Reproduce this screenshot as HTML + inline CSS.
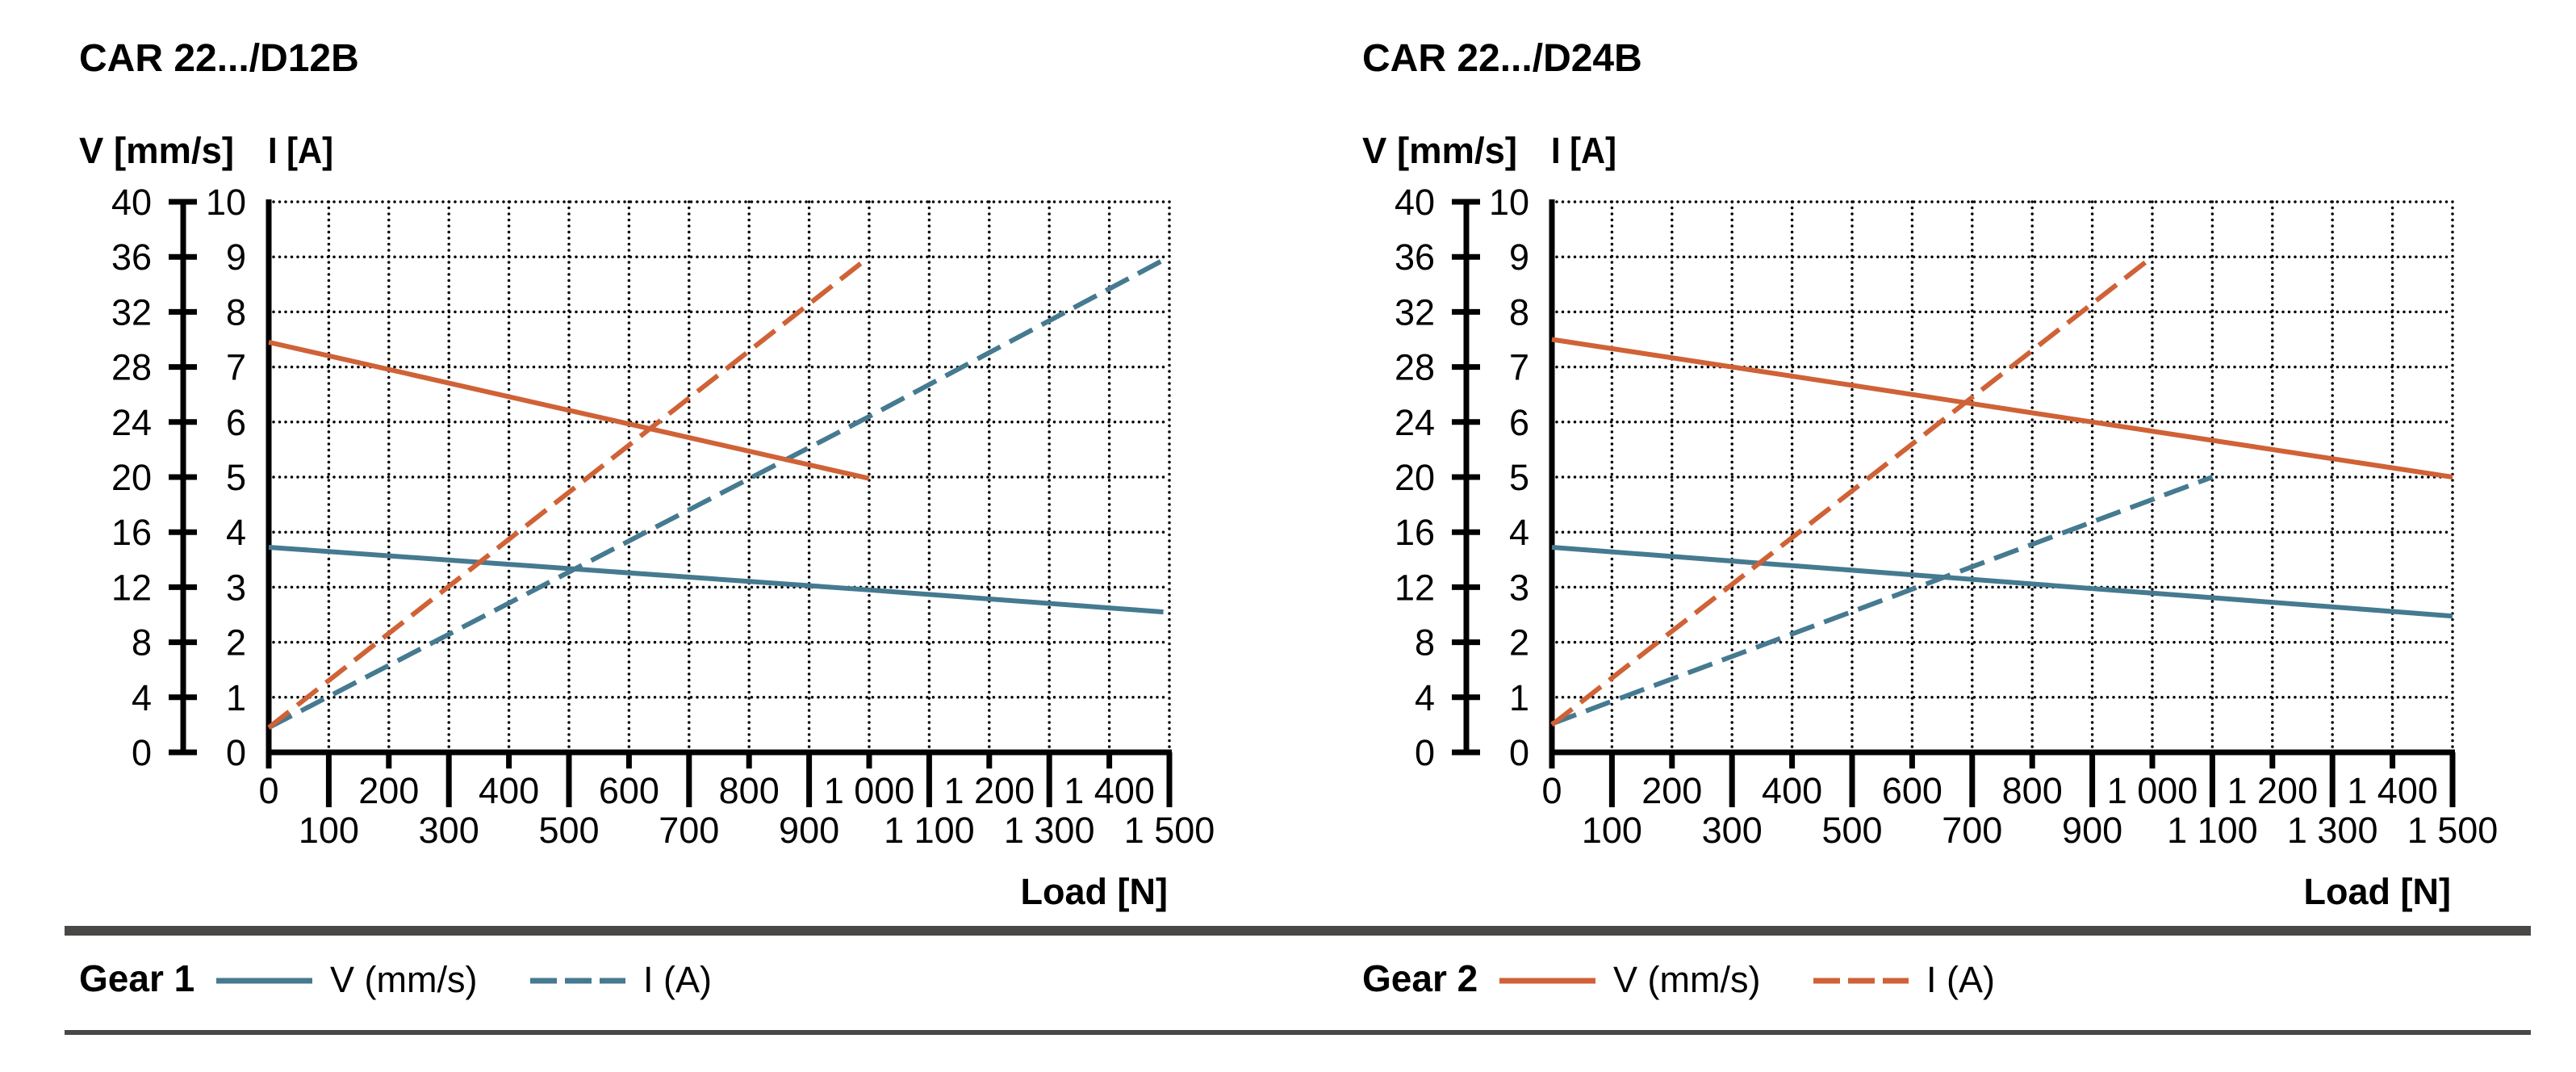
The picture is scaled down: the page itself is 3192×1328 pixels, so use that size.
<!DOCTYPE html>
<html><head><meta charset="utf-8"><style>
html,body{margin:0;padding:0;background:#fff;}
svg{display:block;font-family:"Liberation Sans",Arial,sans-serif;}
.b{font-weight:bold;}
</style></head><body>
<svg id="root" width="3192" height="1328" viewBox="0 0 3192 1328" xmlns="http://www.w3.org/2000/svg">
<rect x="80" y="1147" width="3056" height="12" fill="#4a4846"/>
<rect x="80" y="1276" width="3056" height="6" fill="#4a4846"/>
</svg>
<script>
// Chart 1: CAR 22.../D12B
const c1Title = "CAR 22.../D12B";
const c1Gear1V = [[0,14.9],[500,13.35],[1000,11.8],[1490,10.2]];
const c1Gear1I = [[0,0.45],[1000,6.1],[1500,9.0]];
const c1Gear2V = [[0,29.8],[1000,19.9]];
const c1Gear2I = [[0,0.45],[1000,9.0]];
// Chart 2: CAR 22.../D24B
const c2Title = "CAR 22.../D24B";
const c2Gear1V = [[0,14.9],[1500,9.9]];
const c2Gear1I = [[0,0.52],[1100,5.0]];
const c2Gear2V = [[0,30.0],[1500,20.0]];
const c2Gear2I = [[0,0.5],[1000,9.0]];
// axis ticks
const vTicks = [0,4,8,12,16,20,24,28,32,36,40];
const iTicks = [0,1,2,3,4,5,6,7,8,9,10];
const xTicks = [0,100,200,300,400,500,600,700,800,900,1000,1100,1200,1300,1400,1500];
const xTickLabels = ["0","100","200","300","400","500","600","700","800","900","1 000","1 100","1 200","1 300","1 400","1 500"];

const BLUE="#457a90", ORANGE="#cf6236";
const NS="http://www.w3.org/2000/svg";
const root=document.getElementById('root');
function mk(tag,attrs,parent){const e=document.createElementNS(NS,tag);for(const k in attrs)e.setAttribute(k,attrs[k]);(parent||root).appendChild(e);return e;}
function txt(s,attrs,parent){const e=mk('text',attrs,parent);e.textContent=s;return e;}

function drawChart(ox,title,series,name){
  const g=mk('g',{});
  
  
  const L=333+ox, T=250, B=932, W=1116;
  const xs=v=>L+v/1500*W;
  const yI=v=>B-v/10*(B-T);
  const yV=v=>B-v/40*(B-T);
  let t=txt(title,{x:98+ox,y:88,'font-size':48,class:'b'},g);
  
  
  t=txt('V [mm/s]',{x:98+ox,y:202,'font-size':45,class:'b','textLength':192,lengthAdjust:'spacingAndGlyphs'},g);
  
  
  t=txt('I [A]',{x:332+ox,y:202,'font-size':45,class:'b','textLength':81,lengthAdjust:'spacingAndGlyphs'},g);
  
  
  const grid=mk('g',{stroke:'#000','stroke-width':3.5,'stroke-linecap':'round','stroke-dasharray':'0 7.5',fill:'none'},g);
  
  
  iTicks.forEach(v=>{if(v>0){const l=mk('line',{x1:L+6,y1:yI(v),x2:xs(1500),y2:yI(v)},grid);
    
    }});
  xTicks.forEach(v=>{if(v>0){const l=mk('line',{x1:xs(v),y1:T,x2:xs(v),y2:B-4},grid);
    
    }});
  const va=mk('line',{x1:227+ox,y1:T-3,x2:227+ox,y2:B+3,stroke:'#000','stroke-width':7},g);
  
  
  vTicks.forEach(v=>{
    const tk=mk('line',{x1:209+ox,y1:yV(v),x2:244+ox,y2:yV(v),stroke:'#000','stroke-width':7},g);
    
    
    const lb=txt(String(v),{x:188+ox,y:yV(v)+16,'font-size':45,'text-anchor':'end'},g);
    
    
  });
  iTicks.forEach(v=>{
    const lb=txt(String(v),{x:305+ox,y:yI(v)+16,'font-size':45,'text-anchor':'end'},g);
    
    
  });
  const la=mk('line',{x1:L,y1:T-3,x2:L,y2:B+3,stroke:'#000','stroke-width':7},g);
  
  
  const xa=mk('line',{x1:L-3,y1:B,x2:xs(1500)+3,y2:B,stroke:'#000','stroke-width':7},g);
  
  
  xTicks.forEach((v,i)=>{
    const odd=(v/100)%2===1;
    const tk=mk('line',{x1:xs(v),y1:B,x2:xs(v),y2:odd?1000:952,stroke:'#000','stroke-width':7},g);
    
    
    const lb=txt(xTickLabels[i],{x:xs(v),y:odd?1044:995,'font-size':45,'text-anchor':'middle'},g);
    
    
  });
  t=txt('Load [N]',{x:xs(1500)-2,y:1120,'font-size':45,class:'b','text-anchor':'end'},g);
  
  
  series.forEach(s=>{
    const pts=s.data.map(p=>xs(p[0])+','+(s.axis==='V'?yV(p[1]):yI(p[1]))).join(' ');
    const pl=mk('polyline',{points:pts,fill:'none',stroke:s.color,'stroke-width':6,'stroke-dasharray':s.dash?'32 13':'none'},g);
    
    
  });
}
drawChart(0,c1Title,[
  {data:c1Gear1V,axis:'V',color:BLUE,dash:false,name:'gear1-v-line'},
  {data:c1Gear1I,axis:'I',color:BLUE,dash:true,name:'gear1-i-line'},
  {data:c1Gear2V,axis:'V',color:ORANGE,dash:false,name:'gear2-v-line'},
  {data:c1Gear2I,axis:'I',color:ORANGE,dash:true,name:'gear2-i-line'}],'chart-d12b');
drawChart(1590,c2Title,[
  {data:c2Gear1V,axis:'V',color:BLUE,dash:false,name:'gear1-v-line'},
  {data:c2Gear1I,axis:'I',color:BLUE,dash:true,name:'gear1-i-line'},
  {data:c2Gear2V,axis:'V',color:ORANGE,dash:false,name:'gear2-v-line'},
  {data:c2Gear2I,axis:'I',color:ORANGE,dash:true,name:'gear2-i-line'}],'chart-d24b');

function legend(ox,label,color,name){
  const g=mk('g',{});
  
  
  let t=txt(label,{x:98+ox,y:1228,'font-size':46,class:'b'},g);
  
  
  let l=mk('line',{x1:268+ox,y1:1215,x2:387+ox,y2:1215,stroke:color,'stroke-width':7},g);
  
  
  t=txt('V (mm/s)',{x:409+ox,y:1229,'font-size':45},g);
  
  
  l=mk('line',{x1:657+ox,y1:1215,x2:775+ox,y2:1215,stroke:color,'stroke-width':7,'stroke-dasharray':'33 10'},g);
  
  
  t=txt('I (A)',{x:797+ox,y:1229,'font-size':45},g);
  
  
}
legend(0,'Gear 1',BLUE,'legend-gear1');
legend(1590,'Gear 2',ORANGE,'legend-gear2');
</script>
</body></html>
